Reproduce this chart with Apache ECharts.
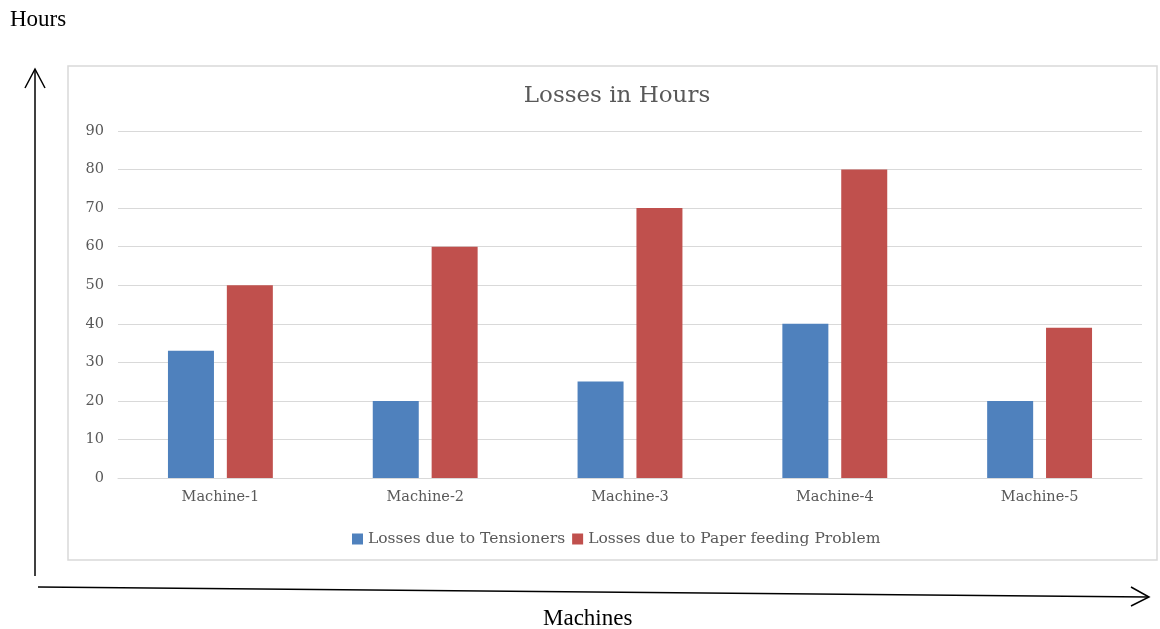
<!DOCTYPE html>
<html>
<head>
<meta charset="utf-8">
<script src="https://cdn.jsdelivr.net/npm/echarts@6/dist/echarts.min.js"></script>
<style>
  html, body { margin: 0; padding: 0; background: #fff; }
  #main { width: 1160px; height: 629px; }
</style>
</head>
<body>
<div id="main"></div>
<script>
// data
var machines = ['Machine-1', 'Machine-2', 'Machine-3', 'Machine-4', 'Machine-5'];
var tensioners = [33, 20, 25, 40, 20];
var paperFeeding = [50, 60, 70, 80, 39];
var seriesNames = ['Losses due to Tensioners', 'Losses due to Paper feeding Problem'];

var chart = echarts.init(document.getElementById('main'));

var serif = '"DejaVu Serif", "Liberation Serif", serif';

var option = {
    backgroundColor: '#fff',
    animation: false,
    title: {
        text: 'Losses in Hours',
        left: 612,
        top: 80,
        textAlign: 'center',
        textStyle: {
            fontFamily: serif,
            fontSize: 23,
            fontWeight: 'normal',
            color: '#595959'
        }
    },
    legend: {
        data: seriesNames,
        left: 347,
        top: 526,
        itemWidth: 11,
        itemHeight: 11,
        itemGap: 7,
        icon: 'rect',
        textStyle: {
            fontFamily: serif,
            fontSize: 15.5,
            color: '#595959'
        }
    },
    grid: {
        left: 118,
        right: 18,
        top: 131,
        bottom: 151
    },
    xAxis: {
        type: 'category',
        data: machines,
        axisLine: { lineStyle: { color: '#d9d9d9' } },
        axisTick: { show: false },
        axisLabel: {
            fontFamily: serif,
            fontSize: 14.5,
            color: '#595959',
            margin: 12
        }
    },
    yAxis: {
        type: 'value',
        min: 0,
        max: 90,
        interval: 10,
        axisLine: { show: false },
        axisTick: { show: false },
        splitLine: { lineStyle: { color: '#d9d9d9' } },
        axisLabel: {
            fontFamily: serif,
            fontSize: 14.5,
            color: '#595959',
            margin: 14
        }
    },
    series: [
        {
            name: seriesNames[0],
            type: 'bar',
            data: tensioners,
            barWidth: 46,
            barGap: '28%',
            itemStyle: { color: '#4f81bd' }
        },
        {
            name: seriesNames[1],
            type: 'bar',
            data: paperFeeding,
            barWidth: 46,
            itemStyle: { color: '#c0504d' }
        }
    ],
    graphic: [
        // chart box
        {
            type: 'rect',
            shape: { x: 68, y: 66, width: 1089, height: 494 },
            style: { fill: 'none', stroke: '#d9d9d9', lineWidth: 1.5 },
            z: -1
        },
        // vertical arrow
        {
            type: 'polyline',
            shape: { points: [[35, 576], [35, 70]] },
            style: { stroke: '#000', lineWidth: 1.5, fill: 'none' }
        },
        {
            type: 'polyline',
            shape: { points: [[25, 88], [35, 69], [45, 88]] },
            style: { stroke: '#000', lineWidth: 1.5, fill: 'none' }
        },
        // horizontal arrow
        {
            type: 'polyline',
            shape: { points: [[38, 587], [1148, 597]] },
            style: { stroke: '#000', lineWidth: 1.5, fill: 'none' }
        },
        {
            type: 'polyline',
            shape: { points: [[1131, 587], [1149, 597], [1131, 606]] },
            style: { stroke: '#000', lineWidth: 1.5, fill: 'none' }
        },
        {
            type: 'text',
            left: 10,
            top: 8,
            style: {
                text: 'Hours',
                font: '23px "Liberation Serif", serif',
                fill: '#000'
            }
        },
        {
            type: 'text',
            left: 543,
            top: 607,
            style: {
                text: 'Machines',
                font: '23px "Liberation Serif", serif',
                fill: '#000'
            }
        }
    ]
};

chart.setOption(option);
</script>
</body>
</html>
